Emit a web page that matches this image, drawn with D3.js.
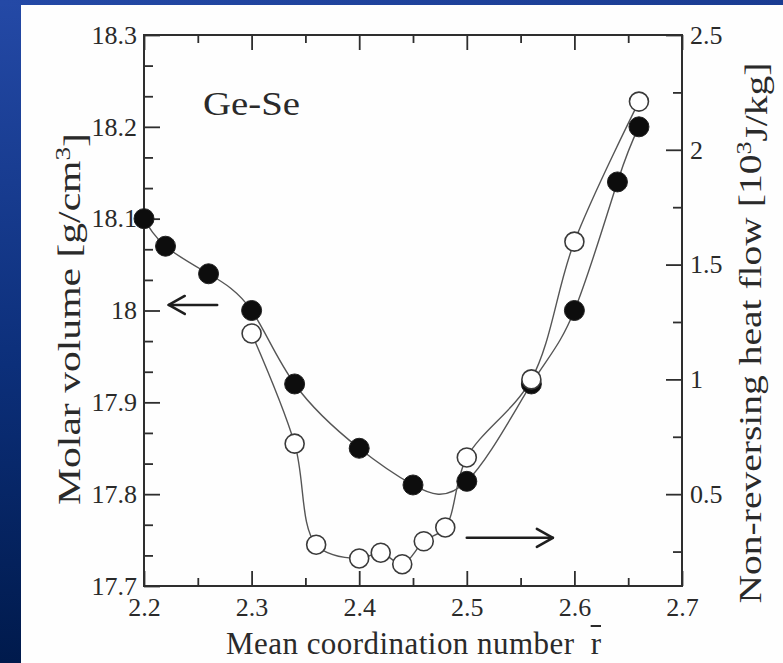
<!DOCTYPE html>
<html>
<head>
<meta charset="utf-8">
<script src="https://cdn.jsdelivr.net/npm/d3@7"></script>
<style>
  html, body { margin: 0; padding: 0; background: #fff; }
  svg { display: block; }
  text { font-family: "Times New Roman", "Liberation Serif", Tinos, Times, serif; }
</style>
</head>
<body>
<svg id="chart" width="783" height="663"></svg>
<script>
// ---- data ----
const rFilled = [2.20, 2.22, 2.26, 2.30, 2.34, 2.40, 2.45, 2.50, 2.56, 2.60, 2.64, 2.66];
const molarVolume = [18.10, 18.07, 18.04, 18.00, 17.92, 17.85, 17.81, 17.814, 17.92, 18.00, 18.14, 18.20];

const rOpen = [2.30, 2.34, 2.36, 2.40, 2.42, 2.44, 2.46, 2.48, 2.50, 2.56, 2.60, 2.66];
const heatFlow = [1.20, 0.72, 0.28, 0.22, 0.245, 0.195, 0.295, 0.355, 0.66, 1.00, 1.60, 2.21];

const xTicks = [2.2, 2.3, 2.4, 2.5, 2.6, 2.7];
const xMinorTicks = [2.25, 2.35, 2.45, 2.55, 2.65];
const leftTicks = [17.7, 17.8, 17.9, 18.0, 18.1, 18.2, 18.3];
const leftMinorTicks = [17.7333, 17.7667, 17.8333, 17.8667, 17.9333, 17.9667, 18.0333, 18.0667, 18.1333, 18.1667, 18.2333, 18.2667];
const rightTicks = [0.5, 1, 1.5, 2, 2.5];
const rightMinorTicks = [0.25, 0.75, 1.25, 1.75, 2.25];

// arrows (data units)
const leftArrow = {from: 2.268, to: 2.223, y: 18.006};
const rightArrow = {from: 2.50, to: 2.58, y: 0.31};

// ---- setup ----
const svg = d3.select("#chart");
const W = 783, H = 663;
const pL = 144, pR = 682, pT = 35, pB = 586;
const FONT = '"Times New Roman", "Liberation Serif", Tinos, Times, serif';

const x = d3.scaleLinear().domain([2.2, 2.7]).range([pL, pR]);
const yL = d3.scaleLinear().domain([17.7, 18.3]).range([pB, pT]);
const yR = d3.scaleLinear().domain([0.1, 2.5]).range([pB, pT]);

const fmt = d => String(+(+d).toFixed(2));

// background
const defs = svg.append("defs");
const gl = defs.append("linearGradient").attr("id", "gLeft").attr("x1", 0).attr("y1", 0).attr("x2", 0).attr("y2", 1);
gl.append("stop").attr("offset", "0%").attr("stop-color", "#2449a6");
gl.append("stop").attr("offset", "55%").attr("stop-color", "#0c2f7a");
gl.append("stop").attr("offset", "100%").attr("stop-color", "#001a4c");
const gt = defs.append("linearGradient").attr("id", "gTop").attr("x1", 0).attr("y1", 0).attr("x2", 1).attr("y2", 0);
gt.append("stop").attr("offset", "0%").attr("stop-color", "#2449a6");
gt.append("stop").attr("offset", "100%").attr("stop-color", "#1a3c92");

svg.append("rect").attr("x", 0).attr("y", 0).attr("width", W).attr("height", H).attr("fill", "url(#gLeft)");
svg.append("rect").attr("x", 0).attr("y", 0).attr("width", W).attr("height", 6).attr("fill", "url(#gTop)");
svg.append("rect").attr("x", 21).attr("y", 5).attr("width", W - 21).attr("height", H - 5).attr("fill", "#fefefe");

const axisColor = "#2e2e2e";
const labelColor = "#2a2a2a";

function styleAxis(g, noLabels) {
  g.select(".domain").remove();
  g.selectAll(".tick line").attr("stroke", axisColor).attr("stroke-width", 1.8);
  g.selectAll(".tick text").attr("fill", labelColor)
    .attr("font-family", null)
    .style("font-family", FONT)
    .style("font-size", "26px");
  if (noLabels) g.selectAll(".tick text").remove();
}

// bottom axis
svg.append("g").attr("transform", `translate(0,${pB})`)
  .call(d3.axisBottom(x).tickValues(xTicks).tickFormat(fmt).tickSizeInner(-15).tickSizeOuter(0).tickPadding(12))
  .call(g => styleAxis(g, false));
svg.append("g").attr("transform", `translate(0,${pB})`)
  .call(d3.axisBottom(x).tickValues(xMinorTicks).tickSizeInner(-8).tickSizeOuter(0))
  .call(g => styleAxis(g, true));
// top axis (mirrored ticks)
svg.append("g").attr("transform", `translate(0,${pT})`)
  .call(d3.axisTop(x).tickValues(xTicks).tickSizeInner(-15).tickSizeOuter(0))
  .call(g => styleAxis(g, true));
svg.append("g").attr("transform", `translate(0,${pT})`)
  .call(d3.axisTop(x).tickValues(xMinorTicks).tickSizeInner(-8).tickSizeOuter(0))
  .call(g => styleAxis(g, true));
// left axis
svg.append("g").attr("transform", `translate(${pL},0)`)
  .call(d3.axisLeft(yL).tickValues(leftTicks).tickFormat(fmt).tickSizeInner(-16).tickSizeOuter(0).tickPadding(7))
  .call(g => styleAxis(g, false));
svg.append("g").attr("transform", `translate(${pL},0)`)
  .call(d3.axisLeft(yL).tickValues(leftMinorTicks).tickSizeInner(-9).tickSizeOuter(0))
  .call(g => styleAxis(g, true));
// right axis
svg.append("g").attr("transform", `translate(${pR},0)`)
  .call(d3.axisRight(yR).tickValues(rightTicks).tickFormat(fmt).tickSizeInner(-16).tickSizeOuter(0).tickPadding(8))
  .call(g => styleAxis(g, false));
svg.append("g").attr("transform", `translate(${pR},0)`)
  .call(d3.axisRight(yR).tickValues(rightMinorTicks).tickSizeInner(-9).tickSizeOuter(0))
  .call(g => styleAxis(g, true));

// frame
svg.append("rect").attr("x", pL).attr("y", pT).attr("width", pR - pL).attr("height", pB - pT)
  .attr("fill", "none").attr("stroke", axisColor).attr("stroke-width", 2);

// curves
const filledData = rFilled.map((r, i) => ({r, v: molarVolume[i]}));
const openData = rOpen.map((r, i) => ({r, v: heatFlow[i]}));

svg.append("path").datum(filledData)
  .attr("d", d3.line().x(d => x(d.r)).y(d => yL(d.v)).curve(d3.curveNatural))
  .attr("fill", "none").attr("stroke", "#555").attr("stroke-width", 1.4);
svg.append("path").datum(openData)
  .attr("d", d3.line().x(d => x(d.r)).y(d => yR(d.v)).curve(d3.curveCatmullRom.alpha(0.5)))
  .attr("fill", "none").attr("stroke", "#555").attr("stroke-width", 1.4);

// markers
svg.append("g").selectAll("circle").data(filledData).join("circle")
  .attr("cx", d => x(d.r)).attr("cy", d => yL(d.v)).attr("r", 10)
  .attr("fill", "#0d0d0d").attr("stroke", "#222").attr("stroke-width", 1);
svg.append("g").selectAll("circle").data(openData).join("circle")
  .attr("cx", d => x(d.r)).attr("cy", d => yR(d.v)).attr("r", 9.5)
  .attr("fill", "#fff").attr("stroke", "#3a3a3a").attr("stroke-width", 1.6);

// arrows
function arrow(x1, x2, y) {
  const dir = Math.sign(x2 - x1);
  const g = svg.append("g").attr("stroke", "#1e1e1e").attr("stroke-width", 2.6).attr("fill", "none")
    .attr("stroke-linecap", "round").attr("stroke-linejoin", "round");
  g.append("line").attr("x1", x1).attr("x2", x2).attr("y1", y).attr("y2", y);
  g.append("polyline").attr("points", `${x2 - dir * 16},${y - 9} ${x2},${y} ${x2 - dir * 16},${y + 9}`);
}
arrow(x(leftArrow.from), x(leftArrow.to), yL(leftArrow.y));
arrow(x(rightArrow.from), x(rightArrow.to), yR(rightArrow.y));

// Ge-Se label
svg.append("text").attr("x", 203).attr("y", 115).attr("fill", "#2a2a2a")
  .style("font-family", FONT)
  .style("font-size", "33px").attr("textLength", 97).attr("lengthAdjust", "spacingAndGlyphs")
  .text("Ge-Se");

// x title
const xt = svg.append("text").attr("x", 226).attr("y", 654).attr("fill", "#2a2a2a")
  .style("font-family", FONT)
  .style("font-size", "31px").attr("textLength", 375).attr("lengthAdjust", "spacing");
xt.append("tspan").text("Mean coordination number ");
xt.append("tspan").attr("dx", 8).text("r");
{
  const node = xt.node();
  const n = node.getNumberOfChars();
  const ext = node.getExtentOfChar(n - 1);
  svg.append("line").attr("x1", ext.x).attr("x2", ext.x + ext.width)
    .attr("y1", 626).attr("y2", 626).attr("stroke", "#2a2a2a").attr("stroke-width", 2);
}

// left title
const lt = svg.append("text").attr("transform", "translate(80,319) rotate(-90)")
  .attr("text-anchor", "middle").attr("fill", "#2a2a2a")
  .style("font-family", FONT)
  .style("font-size", "32px").attr("textLength", 372).attr("lengthAdjust", "spacingAndGlyphs");
lt.append("tspan").text("Molar volume [g/cm");
lt.append("tspan").attr("dy", "-0.5em").style("font-size", "21px").text("3");
lt.append("tspan").attr("dy", "0.5em").text("]");

// right title
const rt = svg.append("text").attr("transform", "translate(761,333) rotate(-90)")
  .attr("text-anchor", "middle").attr("fill", "#2a2a2a")
  .style("font-family", FONT)
  .style("font-size", "32px").attr("textLength", 541).attr("lengthAdjust", "spacingAndGlyphs");
rt.append("tspan").text("Non-reversing heat flow [10");
rt.append("tspan").attr("dy", "-0.5em").style("font-size", "21px").text("3");
rt.append("tspan").attr("dy", "0.5em").text("J/kg]");
</script>
</body>
</html>
